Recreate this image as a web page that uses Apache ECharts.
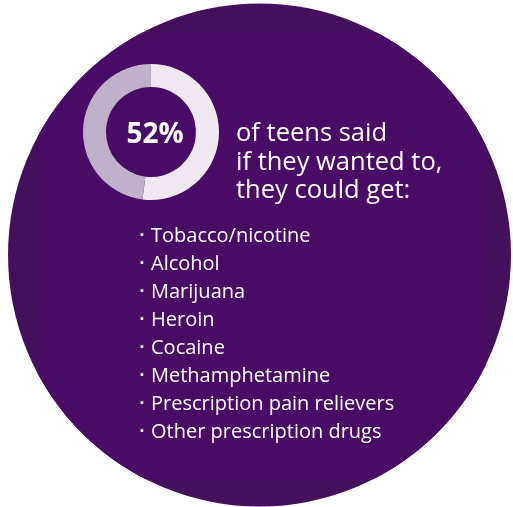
<!DOCTYPE html>
<html>
<head>
<meta charset="utf-8">
<script src="https://cdn.jsdelivr.net/npm/echarts@6/dist/echarts.min.js"></script>
<style>
html,body{margin:0;padding:0;background:#fff;}
#c{width:513px;height:507px;}
</style>
</head>
<body>
<div id="c"></div>
<script>
var percentValue = 52;
var donutNames = ['Could get', 'Other'];
var donutValues = [percentValue, 100 - percentValue];
var headingLines = ['of teens said', 'if they wanted to,', 'they could get:'];
var substances = ['Tobacco/nicotine', 'Alcohol', 'Marijuana', 'Heroin', 'Cocaine', 'Methamphetamine', 'Prescription pain relievers', 'Other prescription drugs'];

var chart = echarts.init(document.getElementById('c'));

// background disk with a slightly lighter inner rectangle region
var cx = 259.5, cy = 255, r = 251.5;
var rx0 = 37, rx1 = 486, ry0 = 32, ry1 = 480;
var innerPts = [];
for (var i = 0; i < 360; i++) {
  var a = i * Math.PI / 180;
  var x = cx + r * Math.cos(a), y = cy + r * Math.sin(a);
  innerPts.push([Math.min(rx1, Math.max(rx0, x)), Math.min(ry1, Math.max(ry0, y))]);
}

var font = '"Open Sans", sans-serif';
var graphics = [
  { type: 'circle', z: 0, shape: { cx: cx, cy: cy, r: r }, style: { fill: '#44105b' }, silent: true },
  { type: 'polygon', z: 1, shape: { points: innerPts }, style: { fill: '#4a0b67' }, silent: true },
  { type: 'text', z: 10, style: { text: percentValue + '%', x: 155, y: 135, fill: '#ffffff', font: 'bold 28px ' + font, textAlign: 'center', textVerticalAlign: 'middle' } }
];
headingLines.forEach(function (t, k) {
  graphics.push({ type: 'text', z: 10, style: { text: t, x: 236, y: 134 + k * 28.5, fill: '#ffffff', font: '25.5px ' + font, textAlign: 'left', textVerticalAlign: 'middle' } });
});
substances.forEach(function (t, k) {
  var my = 236.5 + k * 28;
  graphics.push({ type: 'text', z: 10, style: { text: '·', x: 142, y: my, fill: '#ffffff', font: 'bold 17px ' + font, textAlign: 'center', textVerticalAlign: 'middle' } });
  graphics.push({ type: 'text', z: 10, style: { text: t, x: 151, y: my, fill: '#ffffff', font: '20px ' + font, textAlign: 'left', textVerticalAlign: 'middle' } });
});

chart.setOption({
  animation: false,
  graphic: graphics,
  series: [{
    type: 'pie',
    z: 5,
    center: [151, 132],
    radius: [45, 68],
    startAngle: 90,
    clockwise: true,
    silent: true,
    label: { show: false },
    labelLine: { show: false },
    itemStyle: { borderWidth: 0 },
    color: ['#efe8f1', '#bfb1c9'],
    data: donutNames.map(function (n, i) { return { name: n, value: donutValues[i] }; })
  }]
});
</script>
</body>
</html>
